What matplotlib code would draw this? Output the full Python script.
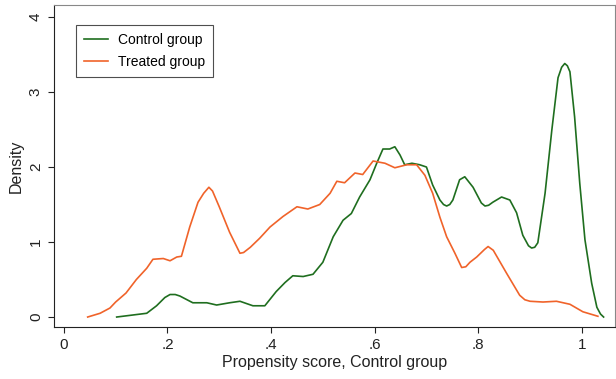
import numpy as np
import matplotlib
matplotlib.use('Agg')
import matplotlib.pyplot as plt

# kernel density curves
ctrl_x = [0.102, 0.16, 0.179, 0.195, 0.205, 0.215, 0.224, 0.249, 0.276, 0.295, 0.32, 0.34, 0.365, 0.388,
          0.41, 0.427, 0.442, 0.462, 0.481, 0.5, 0.52, 0.539, 0.555, 0.571, 0.591, 0.604,
          0.616, 0.629, 0.639, 0.649, 0.658, 0.672, 0.687, 0.7, 0.712, 0.726, 0.733, 0.739, 0.745, 0.751,
          0.764, 0.774, 0.79, 0.806, 0.813, 0.82, 0.828, 0.845, 0.861, 0.874, 0.886, 0.897, 0.903, 0.909, 0.915, 0.929,
          0.942, 0.954, 0.961, 0.967, 0.972, 0.977, 0.986, 0.996, 1.006, 1.019, 1.029, 1.036, 1.042]
ctrl_y = [0.0, 0.05, 0.15, 0.26, 0.3, 0.3, 0.28, 0.19, 0.19, 0.16, 0.19, 0.21, 0.15, 0.15,
          0.34, 0.46, 0.55, 0.54, 0.57, 0.73, 1.07, 1.29, 1.38, 1.6, 1.83, 2.05,
          2.24, 2.24, 2.27, 2.16, 2.03, 2.05, 2.03, 2.0, 1.76, 1.56, 1.5, 1.48, 1.5, 1.56,
          1.83, 1.87, 1.73, 1.52, 1.48, 1.49, 1.53, 1.6, 1.56, 1.39, 1.09, 0.95, 0.92, 0.93, 0.99, 1.65,
          2.49, 3.19, 3.33, 3.38, 3.35, 3.27, 2.67, 1.78, 1.03, 0.45, 0.13, 0.04, 0.0]

treat_x = [0.046, 0.07, 0.089, 0.10, 0.12, 0.14, 0.16, 0.172, 0.192, 0.205, 0.218, 0.227,
           0.243, 0.259, 0.27, 0.28, 0.287, 0.30, 0.32, 0.34, 0.347, 0.36, 0.378, 0.398, 0.423, 0.45, 0.471,
           0.494, 0.514, 0.527, 0.542, 0.562, 0.577, 0.597, 0.62, 0.639, 0.662, 0.681,
           0.697, 0.712, 0.726, 0.739, 0.755, 0.768, 0.776, 0.784, 0.797, 0.812, 0.819, 0.829, 0.855,
           0.88, 0.89, 0.9, 0.925, 0.951, 0.977, 1.002, 1.031]
treat_y = [0.0, 0.05, 0.12, 0.2, 0.32, 0.5, 0.65, 0.77, 0.78, 0.75, 0.8, 0.81,
           1.2, 1.53, 1.65, 1.73, 1.68, 1.47, 1.13, 0.85, 0.86, 0.93, 1.05, 1.2, 1.34, 1.47, 1.44,
           1.5, 1.65, 1.81, 1.79, 1.92, 1.9, 2.08, 2.05, 1.99, 2.03, 2.03,
           1.89, 1.65, 1.33, 1.07, 0.85, 0.66, 0.67, 0.73, 0.8, 0.9, 0.94, 0.89, 0.58,
           0.29, 0.23, 0.21, 0.2, 0.21, 0.17, 0.07, 0.01]

xticks = [0, 0.2, 0.4, 0.6, 0.8, 1.0]
xticklabels = ['0', '.2', '.4', '.6', '.8', '1']
yticks = [0, 1, 2, 3, 4]

plt.rcParams['font.family'] = ['Liberation Sans', 'DejaVu Sans']

fig = plt.figure(facecolor='white', figsize=[6.16, 3.79], dpi=100)
ax = fig.add_axes([54/616., 1-327/379., (615-54)/616., (327-5)/379.])

ax.plot(ctrl_x, ctrl_y, '-', color='#1f6e1f', linewidth=1.2, solid_joinstyle='round', label='Control group')
ax.plot(treat_x, treat_y, '-', color='#f0632a', linewidth=1.2, solid_joinstyle='round', label='Treated group')

ax.set_xlim([-0.019, 1.064]); ax.set_ylim([-0.133, 4.16])
ax.set_xticks(xticks); ax.set_xticklabels(xticklabels)
ax.set_yticks(yticks)
ax.tick_params(axis='both', which='major', direction='out', length=4, width=0.8, labelsize=11, pad=4, colors='#222222')
ax.tick_params(axis='y', labelrotation=90)
for t in ax.get_yticklabels(): t.set_va('center')
ax.spines['top'].set_color('#888888'); ax.spines['right'].set_color('#888888')
ax.spines['left'].set_color('#222222'); ax.spines['bottom'].set_color('#222222')
ax.set_xlabel('Propensity score, Control group', fontsize=11.5, labelpad=2, color='#222222')
ax.set_ylabel('Density', fontsize=11.5, labelpad=4, color='#222222')

leg = ax.legend(loc='upper left', bbox_to_anchor=(0.039, 0.938), borderaxespad=0, fontsize=10, frameon=True,
                fancybox=False, edgecolor='#222222', handlelength=1.7, handletextpad=0.7,
                borderpad=0.6, labelspacing=0.55)
leg.get_frame().set_linewidth(0.8)

plt.savefig('out.png', dpi=100, facecolor='white')
